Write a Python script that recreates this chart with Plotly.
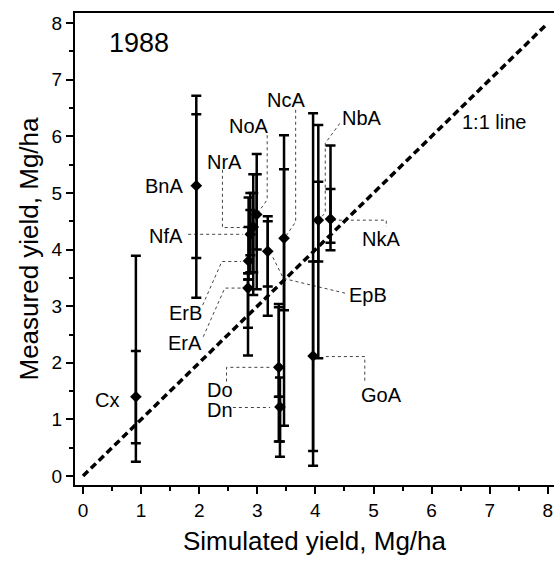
import plotly.graph_objects as go

# ---- data ----
names = ["Cx", "BnA", "ErA", "ErB", "NfA", "NrA", "NoA", "EpB", "NcA", "Do", "Dn", "GoA", "NbA", "NkA"]
simulated = [0.91, 1.95, 2.84, 2.85, 2.88, 2.93, 2.99, 3.18, 3.46, 3.37, 3.39, 3.96, 4.05, 4.26]
measured = [1.40, 5.13, 3.32, 3.80, 4.27, 4.40, 4.62, 3.97, 4.20, 1.92, 1.22, 2.12, 4.52, 4.54]
inner_lo = [0.58, 3.85, 2.62, 3.58, 3.90, 3.60, 4.00, 3.35, 2.93, 1.40, 0.61, 0.44, 3.79, 4.12]
inner_hi = [2.21, 6.39, 3.47, 4.40, 4.70, 5.00, 5.33, 4.50, 5.42, 2.98, 1.40, 3.79, 5.20, 5.07]
outer_lo = [0.25, 3.15, 2.13, 3.47, 3.60, 3.20, 3.30, 2.83, 0.89, 0.61, 0.34, 0.18, 2.08, 3.99]
outer_hi = [3.89, 6.72, 3.58, 4.92, 5.00, 5.33, 5.69, 4.59, 6.02, 3.04, 1.74, 6.41, 6.20, 5.84]
one_to_one = [0, 8]
x_ticks = [0, 1, 2, 3, 4, 5, 6, 7, 8]
y_ticks = [0, 1, 2, 3, 4, 5, 6, 7, 8]

# ---- label placement (annotation layout) ----
label_pos = {
    "Cx": (0.41, 1.34), "BnA": (1.39, 5.12), "NfA": (1.43, 4.24), "NrA": (2.44, 5.55),
    "NoA": (2.86, 6.18), "NcA": (3.49, 6.64), "NbA": (4.80, 6.33), "NkA": (5.13, 4.19),
    "EpB": (4.91, 3.20), "ErB": (1.77, 2.88), "ErA": (1.76, 2.35), "Do": (2.36, 1.52),
    "Dn": (2.36, 1.17), "GoA": (5.13, 1.43),
}
leaders = {
    "NfA": [(1.81, 4.27), (2.75, 4.27)],
    "NrA": [(2.40, 5.41), (2.40, 4.39), (2.79, 4.39)],
    "NoA": [(3.17, 6.02), (3.17, 4.88), (3.01, 4.65)],
    "NcA": [(3.66, 6.47), (3.66, 4.49), (3.48, 4.22)],
    "NbA": [(4.42, 6.23), (4.17, 5.88), (4.17, 4.65), (4.08, 4.55)],
    "NkA": [(4.30, 4.52), (5.22, 4.52), (5.22, 4.40)],
    "EpB": [(4.51, 3.23), (3.45, 3.49), (3.25, 3.90)],
    "ErB": [(2.06, 3.02), (2.39, 3.79), (2.72, 3.79)],
    "ErA": [(2.07, 2.46), (2.44, 3.32), (2.72, 3.32)],
    "Do": [(2.47, 1.67), (2.47, 1.92), (3.25, 1.92)],
    "Dn": [(2.58, 1.21), (3.22, 1.21)],
    "GoA": [(4.18, 2.11), (4.85, 2.11), (4.85, 1.67)],
}

FONT = "Liberation Sans, Arial, Helvetica, sans-serif"
fig = go.Figure()

# leader lines
for k, pts in leaders.items():
    fig.add_trace(go.Scatter(
        x=[p[0] for p in pts], y=[p[1] for p in pts], mode="lines",
        line=dict(color="#444", width=1, dash="dot"), hoverinfo="skip", showlegend=False))

# 1:1 line
fig.add_trace(go.Scatter(x=one_to_one, y=one_to_one, mode="lines",
                         line=dict(color="black", width=3.5, dash="7px,4px"),
                         showlegend=False, hoverinfo="skip"))

# outer error bars
fig.add_trace(go.Scatter(
    x=simulated, y=measured, mode="markers",
    marker=dict(size=1, color="rgba(0,0,0,0)"),
    error_y=dict(type="data", symmetric=False,
                 array=[h - m for h, m in zip(outer_hi, measured)],
                 arrayminus=[m - l for m, l in zip(measured, outer_lo)],
                 color="black", thickness=2.5, width=5),
    showlegend=False, hoverinfo="skip"))
# inner error bars
fig.add_trace(go.Scatter(
    x=simulated, y=measured, mode="markers",
    marker=dict(size=1, color="rgba(0,0,0,0)"),
    error_y=dict(type="data", symmetric=False,
                 array=[h - m for h, m in zip(inner_hi, measured)],
                 arrayminus=[m - l for m, l in zip(measured, inner_lo)],
                 color="black", thickness=2.5, width=5),
    showlegend=False, hoverinfo="skip"))
# points
fig.add_trace(go.Scatter(
    x=simulated, y=measured, mode="markers", text=names,
    marker=dict(symbol="diamond", size=9, color="black"),
    showlegend=False))

for n in names:
    x, y = label_pos[n]
    fig.add_annotation(x=x, y=y, text=n, showarrow=False,
                       font=dict(family=FONT, size=20, color="black"))
fig.add_annotation(x=0.96, y=7.65, text="1988", showarrow=False,
                   font=dict(family=FONT, size=27, color="black"))
fig.add_annotation(x=7.09, y=6.25, text="1:1 line", showarrow=False,
                   font=dict(family=FONT, size=20, color="black"))

axis_common = dict(
    showline=True, linecolor="black", linewidth=2, showgrid=False, zeroline=False,
    ticks="outside", ticklen=7, tickwidth=2, tickcolor="black", automargin=False,
    tickfont=dict(family=FONT, size=19, color="black"),
    minor=dict(ticks="outside", dtick=0.5, ticklen=4, tickwidth=1.5, tickcolor="black"),
)
fig.update_xaxes(range=[-0.138, 8.107], tickvals=x_ticks, mirror=True,
                 title=dict(text="Simulated yield, Mg/ha", standoff=12,
                            font=dict(family=FONT, size=26, color="black")),
                 **axis_common)
fig.update_yaxes(range=[-0.159, 8.18], tickvals=y_ticks,
                 title=dict(text="Measured yield, Mg/ha", standoff=6,
                            font=dict(family=FONT, size=26, color="black")),
                 **axis_common)

fig.update_layout(width=554, height=561, margin=dict(l=75, r=0, t=13, b=76),
                  paper_bgcolor="white", plot_bgcolor="white", showlegend=False)

fig.write_html("out.html", config={"displayModeBar": False},
               post_script="document.body.style.margin='0';document.body.style.overflow='hidden';")
